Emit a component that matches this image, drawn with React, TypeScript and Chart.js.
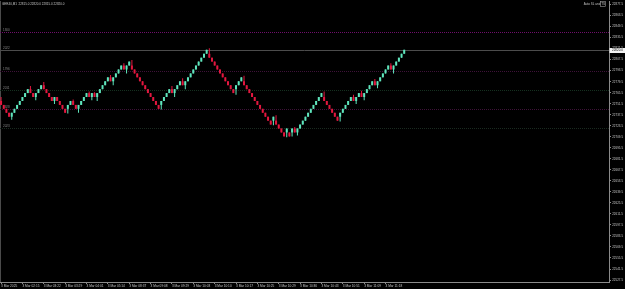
import React, { useEffect, useRef } from 'react';
import { Chart, registerables } from 'chart.js';

Chart.register(...registerables);

// ---- Data (renko bricks) ----
const opens = [
  22755, 22750, 22745, 22740, 22735, 22740, 22745, 22750, 22755, 22760,
  22765, 22770, 22765, 22760, 22765, 22770, 22775, 22770, 22765, 22760,
  22755, 22760, 22755, 22750, 22745, 22745, 22750, 22755, 22750, 22745,
  22750, 22755, 22760, 22765, 22760, 22765, 22760, 22765, 22770, 22775,
  22780, 22785, 22780, 22785, 22790, 22795, 22800, 22795, 22800, 22800,
  22795, 22790, 22785, 22780, 22775, 22770, 22765, 22760, 22755, 22750,
  22750, 22755, 22760, 22765, 22770, 22765, 22770, 22775, 22780, 22775,
  22780, 22785, 22790, 22795, 22800, 22805, 22810, 22815, 22815, 22810,
  22805, 22800, 22795, 22790, 22785, 22780, 22775, 22770, 22770, 22775,
  22780, 22780, 22775, 22770, 22765, 22760, 22755, 22750, 22745, 22740,
  22735, 22730, 22730, 22730, 22725, 22720, 22715, 22715, 22715, 22715,
  22720, 22715, 22720, 22725, 22730, 22735, 22740, 22745, 22750, 22755,
  22760, 22760, 22755, 22750, 22745, 22740, 22735, 22735, 22740, 22745,
  22750, 22755, 22760, 22755, 22760, 22765, 22760, 22765, 22770, 22775,
  22780, 22775, 22780, 22785, 22790, 22795, 22800, 22795, 22800, 22805,
  22810, 22815,
];
const closes = [
  22750, 22745, 22740, 22735, 22740, 22745, 22750, 22755, 22760, 22765,
  22770, 22765, 22760, 22765, 22770, 22775, 22770, 22765, 22760, 22755,
  22760, 22755, 22750, 22745, 22740, 22750, 22755, 22750, 22745, 22750,
  22755, 22760, 22765, 22760, 22765, 22760, 22765, 22770, 22775, 22780,
  22785, 22780, 22785, 22790, 22795, 22800, 22795, 22800, 22805, 22795,
  22790, 22785, 22780, 22775, 22770, 22765, 22760, 22755, 22750, 22745,
  22755, 22760, 22765, 22770, 22765, 22770, 22775, 22780, 22775, 22780,
  22785, 22790, 22795, 22800, 22805, 22810, 22815, 22820, 22810, 22805,
  22800, 22795, 22790, 22785, 22780, 22775, 22770, 22765, 22775, 22780,
  22785, 22775, 22770, 22765, 22760, 22755, 22750, 22745, 22740, 22735,
  22730, 22725, 22735, 22725, 22720, 22715, 22710, 22720, 22710, 22720,
  22715, 22720, 22725, 22730, 22735, 22740, 22745, 22750, 22755, 22760,
  22765, 22755, 22750, 22745, 22740, 22735, 22730, 22740, 22745, 22750,
  22755, 22760, 22755, 22760, 22765, 22760, 22765, 22770, 22775, 22780,
  22775, 22780, 22785, 22790, 22795, 22800, 22795, 22800, 22805, 22810,
  22815, 22820,
];
const highs = [
  22760, 22750, 22745, 22740, 22740, 22745, 22750, 22755, 22760, 22765,
  22770, 22774, 22765, 22765, 22770, 22775, 22779, 22770, 22765, 22760,
  22760, 22760, 22755, 22750, 22745, 22750, 22755, 22757, 22750, 22750,
  22755, 22760, 22765, 22767, 22765, 22766, 22765, 22770, 22775, 22780,
  22785, 22788, 22785, 22790, 22795, 22800, 22803, 22800, 22805, 22807,
  22795, 22790, 22785, 22780, 22775, 22770, 22765, 22760, 22755, 22750,
  22755, 22760, 22765, 22770, 22774, 22770, 22775, 22780, 22784, 22780,
  22785, 22790, 22795, 22800, 22805, 22810, 22815, 22820, 22822, 22810,
  22805, 22800, 22795, 22790, 22785, 22780, 22775, 22770, 22775, 22780,
  22785, 22787, 22775, 22770, 22765, 22760, 22755, 22750, 22745, 22740,
  22735, 22730, 22735, 22737, 22725, 22720, 22715, 22720, 22715, 22720,
  22722, 22720, 22725, 22730, 22735, 22740, 22745, 22750, 22755, 22760,
  22765, 22767, 22755, 22750, 22745, 22740, 22735, 22740, 22745, 22750,
  22755, 22760, 22763, 22760, 22765, 22768, 22765, 22770, 22775, 22780,
  22783, 22780, 22785, 22790, 22795, 22800, 22803, 22800, 22805, 22810,
  22815, 22820,
];
const lows = [
  22750, 22745, 22740, 22735, 22731, 22740, 22745, 22750, 22755, 22760,
  22765, 22765, 22760, 22756, 22765, 22770, 22770, 22765, 22760, 22755,
  22751, 22755, 22750, 22745, 22740, 22739, 22750, 22750, 22745, 22740,
  22750, 22755, 22760, 22760, 22756, 22760, 22755, 22765, 22770, 22775,
  22780, 22780, 22775, 22785, 22790, 22795, 22795, 22790, 22800, 22795,
  22790, 22785, 22780, 22775, 22770, 22765, 22760, 22755, 22750, 22745,
  22744, 22755, 22760, 22765, 22765, 22760, 22770, 22775, 22775, 22770,
  22780, 22785, 22790, 22795, 22800, 22805, 22810, 22815, 22810, 22805,
  22800, 22795, 22790, 22785, 22780, 22775, 22770, 22765, 22763, 22775,
  22780, 22775, 22770, 22765, 22760, 22755, 22750, 22745, 22740, 22735,
  22730, 22725, 22724, 22725, 22720, 22715, 22710, 22709, 22710, 22710,
  22715, 22711, 22720, 22725, 22730, 22735, 22740, 22745, 22750, 22755,
  22760, 22755, 22750, 22745, 22740, 22735, 22730, 22729, 22740, 22745,
  22750, 22755, 22755, 22751, 22760, 22760, 22756, 22765, 22770, 22775,
  22775, 22771, 22780, 22785, 22790, 22795, 22795, 22790, 22800, 22805,
  22810, 22815,
];

const yTickValues = [
  22877.5, 22863.5, 22849.5, 22835.5, 22821.5, 22807.5, 22793.5, 22779.5,
  22765.5, 22751.5, 22737.5, 22723.5, 22709.5, 22695.5, 22681.5, 22667.5,
  22653.5, 22639.5, 22625.5, 22611.5, 22597.5, 22583.5, 22569.5, 22555.5,
  22541.5, 22527.5,
];
const xTickBars = [1, 9, 17, 25, 33, 41, 49, 57, 65, 73, 81, 89, 97, 105, 113, 121, 129, 137, 145];
const xTickLabels = [
  '3 Mar 2025', '3 Mar 02:15', '3 Mar 03:22', '3 Mar 03:29', '3 Mar 04:01',
  '3 Mar 05:14', '3 Mar 08:37', '3 Mar 09:08', '3 Mar 09:29', '3 Mar 10:03',
  '3 Mar 10:10', '3 Mar 10:17', '3 Mar 10:25', '3 Mar 10:29', '3 Mar 10:36',
  '3 Mar 10:43', '3 Mar 10:51', '3 Mar 11:09', '3 Mar 11:18',
];
const levelPrices = [22842.5, 22793.5, 22769, 22744.5, 22720.5];
const levelLabels = ['1300', '1796', '2011', '1928', '2023'];
const bidPrice = 22820.0;
const bidLabel = '2022';
const titleText = 'GER40,M1  22815.0 22820.0 22815.0 22820.0';
const panelText = 'Auto SL and TS';

const FONT = 'Liberation Sans';
const TEXT = '#c4c4c4';
const AXIS = '#8a8a8a';
const UP = '#5fe6bd';
const DOWN = '#e3173f';
const levelColors = ['#6e0f6a', '#3e1238', '#15301f', '#3e1238', '#1a2a20'];

const mtPlugin = {
  id: 'mtDecor',
  beforeDraw(chart: any) {
    const { ctx, width, height } = chart;
    ctx.save();
    ctx.fillStyle = '#000';
    ctx.fillRect(0, 0, width, height);
    ctx.restore();
  },
  beforeDatasetsDraw(chart: any) {
    const { ctx, chartArea: a, scales } = chart;
    const y = scales.y;
    ctx.save();
    ctx.lineWidth = 1;
    // left frame
    ctx.strokeStyle = '#4a4a4a';
    ctx.beginPath();
    ctx.moveTo(0.5, a.top);
    ctx.lineTo(0.5, a.bottom);
    ctx.stroke();
    ctx.font = `3px "${FONT}"`;
    ctx.textAlign = 'left';
    ctx.textBaseline = 'bottom';
    levelPrices.forEach((p, i) => {
      const py = Math.round(y.getPixelForValue(p)) + 0.5;
      ctx.strokeStyle = levelColors[i];
      ctx.setLineDash([1, 1]);
      ctx.beginPath();
      ctx.moveTo(a.left, py);
      ctx.lineTo(a.right, py);
      ctx.stroke();
      ctx.fillStyle = '#8a8a8a';
      ctx.fillText(levelLabels[i], 3, py - 0.5);
    });
    ctx.setLineDash([]);
    const by = Math.round(y.getPixelForValue(bidPrice)) + 0.5;
    ctx.strokeStyle = '#4c4c4c';
    ctx.beginPath();
    ctx.moveTo(a.left, by);
    ctx.lineTo(a.right, by);
    ctx.stroke();
    ctx.fillStyle = '#8a8a8a';
    ctx.fillText(bidLabel, 3, by - 0.5);
    ctx.restore();
  },
  afterDraw(chart: any) {
    const { ctx, chartArea: a, scales, width } = chart;
    const y = scales.y;
    ctx.save();
    ctx.font = `3px "${FONT}"`;
    ctx.textBaseline = 'middle';
    ctx.fillStyle = TEXT;
    ctx.textAlign = 'left';
    ctx.fillText(titleText, 2, 4);
    ctx.textAlign = 'right';
    ctx.fillText(panelText, a.right - 4, 4);
    ctx.strokeStyle = '#9a9a9a';
    ctx.lineWidth = 0.6;
    ctx.strokeRect(a.right - 8.5, 1.5, 5, 5);
    // current price label
    const by = y.getPixelForValue(bidPrice);
    ctx.fillStyle = '#f2f2f2';
    ctx.fillRect(a.right + 0.5, by - 1.8, width - a.right, 5);
    ctx.fillStyle = '#000';
    ctx.textAlign = 'left';
    ctx.fillText(bidPrice.toFixed(1), a.right + 3, by + 0.7);
    ctx.restore();
  },
};

export default function App() {
  const ref = useRef<HTMLCanvasElement>(null);
  useEffect(() => {
    const canvas = ref.current;
    if (!canvas) return;
    const colors = opens.map((o, i) => (closes[i] >= o ? UP : DOWN));
    const chart = new Chart(canvas, {
      type: 'bar',
      data: {
        datasets: [
          {
            label: 'body',
            data: opens.map((o, i) => ({ x: i + 1, y: [o, closes[i]] })) as any,
            backgroundColor: colors,
            borderWidth: 0,
            grouped: false,
            barPercentage: 0.75,
            categoryPercentage: 1,
            order: 1,
          } as any,
          {
            label: 'wick',
            data: lows.map((l, i) => ({ x: i + 1, y: [l, highs[i]] })) as any,
            backgroundColor: colors,
            borderWidth: 0,
            grouped: false,
            maxBarThickness: 1,
            order: 2,
          } as any,
        ],
      },
      options: {
        responsive: false,
        animation: false,
        devicePixelRatio: 1,
        events: [],
        layout: { padding: { top: 1, left: 0, right: 0, bottom: 0 } },
        plugins: {
          legend: { display: false },
          tooltip: { enabled: false },
          title: { display: false },
        },
        scales: {
          x: {
            type: 'linear',
            position: 'bottom',
            min: 0.6,
            max: 228.7,
            offset: false,
            afterBuildTicks: (s: any) => {
              s.ticks = xTickBars.map((v) => ({ value: v }));
            },
            afterFit: (s: any) => {
              s.height = 7;
              s.paddingLeft = 0;
              s.paddingRight = 0;
            },
            ticks: {
              autoSkip: false,
              maxRotation: 0,
              minRotation: 0,
              align: 'start',
              padding: 0.5,
              color: TEXT,
              font: { family: FONT, size: 3.2 },
              callback: (_v: any, i: number) => xTickLabels[i],
            },
            grid: { offset: false, drawOnChartArea: false, drawTicks: true, tickLength: 2, color: AXIS },
            border: { display: true, color: AXIS },
          },
          y: {
            type: 'linear',
            position: 'right',
            min: 22525,
            max: 22882,
            afterBuildTicks: (s: any) => {
              s.ticks = yTickValues.map((v) => ({ value: v }));
            },
            afterFit: (s: any) => {
              s.width = 16;
              s.paddingTop = 0;
              s.paddingBottom = 0;
            },
            ticks: {
              autoSkip: false,
              padding: 1.2,
              color: TEXT,
              font: { family: FONT, size: 3 },
              callback: (v: any) => Number(v).toFixed(1),
            },
            grid: { drawOnChartArea: false, drawTicks: true, tickLength: 2, color: AXIS },
            border: { display: true, color: AXIS },
          },
        },
      } as any,
      plugins: [mtPlugin],
    });
    return () => chart.destroy();
  }, []);
  return (
    <div style={{ position: 'fixed', left: 0, top: 0, width: 625, height: 289, background: '#000' }}>
      <canvas ref={ref} width={625} height={289} style={{ display: 'block' }} />
    </div>
  );
}
